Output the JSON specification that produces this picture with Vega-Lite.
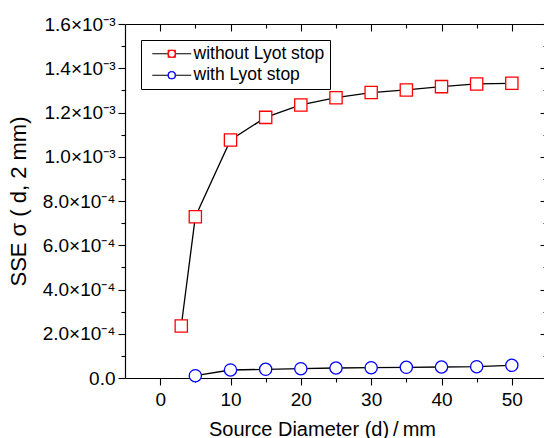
{
  "$schema": "https://vega.github.io/schema/vega-lite/v6.json",
  "width": 422,
  "height": 354,
  "autosize": {"type": "none"},
  "padding": {"left": 125, "top": 24, "right": 0, "bottom": 60},
  "background": "white",
  "config": {
    "font": "Liberation Sans",
    "view": {"stroke": null},
    "axis": {
      "grid": false,
      "domainColor": "black",
      "tickColor": "black",
      "labelColor": "black",
      "titleColor": "black",
      "labelFont": "Liberation Sans",
      "titleFont": "Liberation Sans",
      "labelFontSize": 19,
      "titleFontSize": 20,
      "titleFontWeight": "normal",
      "domainWidth": 1.2,
      "tickWidth": 1.1
    }
  },
  "data": {
    "values": [
      {"x": 3, "y": 0.000235, "series": "without Lyot stop"},
      {"x": 5, "y": 0.000729, "series": "without Lyot stop"},
      {"x": 10, "y": 0.001076, "series": "without Lyot stop"},
      {"x": 15, "y": 0.001178, "series": "without Lyot stop"},
      {"x": 20, "y": 0.001234, "series": "without Lyot stop"},
      {"x": 25, "y": 0.001267, "series": "without Lyot stop"},
      {"x": 30, "y": 0.00129, "series": "without Lyot stop"},
      {"x": 35, "y": 0.001302, "series": "without Lyot stop"},
      {"x": 40, "y": 0.001317, "series": "without Lyot stop"},
      {"x": 45, "y": 0.001329, "series": "without Lyot stop"},
      {"x": 50, "y": 0.001332, "series": "without Lyot stop"},
      {"x": 5, "y": 0.0000104, "series": "with Lyot stop"},
      {"x": 10, "y": 0.0000362, "series": "with Lyot stop"},
      {"x": 15, "y": 0.0000393, "series": "with Lyot stop"},
      {"x": 20, "y": 0.000042, "series": "with Lyot stop"},
      {"x": 25, "y": 0.0000452, "series": "with Lyot stop"},
      {"x": 30, "y": 0.0000466, "series": "with Lyot stop"},
      {"x": 35, "y": 0.0000484, "series": "with Lyot stop"},
      {"x": 40, "y": 0.0000497, "series": "with Lyot stop"},
      {"x": 45, "y": 0.0000511, "series": "with Lyot stop"},
      {"x": 50, "y": 0.0000574, "series": "with Lyot stop"}
    ]
  },
  "layer": [
    {
      "mark": {"type": "line", "strokeWidth": 1.3},
      "encoding": {
        "x": {
          "field": "x", "type": "quantitative",
          "scale": {"domain": [-5, 55], "nice": false, "zero": false},
          "axis": {"orient": "bottom", "values": [0, 10, 20, 30, 40, 50], "tickSize": 7, "labelPadding": 5, "title": "Source Diameter (d)\u2009/\u2009mm", "titlePadding": 10, "titleX": 197, "format": "d"}
        },
        "y": {
          "field": "y", "type": "quantitative",
          "scale": {"domain": [0, 0.0016], "nice": false, "zero": false},
          "axis": {
            "orient": "left",
            "values": [0, 0.0002, 0.0004, 0.0006, 0.0008, 0.001, 0.0012, 0.0014, 0.0016],
            "tickSize": 7, "labelPadding": 3,
            "labelExpr": "datum.value < 0.00001 ? '0.0' : (datum.value < 0.00099 ? format(datum.value * 10000, '.1f') + '×10⁻⁴' : format(datum.value * 1000, '.1f') + '×10⁻³')",
            "title": "SSE σ ( d, 2 mm)", "titlePadding": 12, "titleFontSize": 22
          }
        },
        "color": {
          "field": "series", "type": "nominal",
          "scale": {"domain": ["without Lyot stop", "with Lyot stop"], "range": ["black", "black"]},
          "legend": {
            "orient": "top-left", "offset": 16, "title": null, "padding": 5,
            "strokeColor": "black", "fillColor": "white",
            "symbolType": "M-5.57,0H5.57", "symbolSize": 49, "symbolStrokeWidth": 1.2,
            "symbolOffset": 17, "labelOffset": 13,
            "labelFont": "Liberation Sans", "labelFontSize": 17.5, "labelColor": "black",
            "rowPadding": 2.5, "labelLimit": 400,
            "labelExpr": "datum.label + '  '"
          }
        }
      }
    },
    {
      "mark": {"type": "point", "fill": "white", "strokeWidth": 1.3, "size": 150, "opacity": 1},
      "encoding": {
        "x": {
          "field": "x", "type": "quantitative",
          "scale": {"domain": [-5, 55], "nice": false, "zero": false},
          "axis": {"orient": "bottom", "values": [5, 15, 25, 35, 45], "tickSize": 4, "labels": false, "domain": false, "title": null}
        },
        "y": {
          "field": "y", "type": "quantitative",
          "scale": {"domain": [0, 0.0016], "nice": false, "zero": false},
          "axis": {"orient": "left", "values": [0.0001, 0.0003, 0.0005, 0.0007, 0.0009, 0.0011, 0.0013, 0.0015], "tickSize": 4, "labels": false, "domain": false, "title": null}
        },
        "stroke": {
          "field": "series", "type": "nominal",
          "scale": {"domain": ["without Lyot stop", "with Lyot stop"], "range": ["#ff0000", "#0000ff"]},
          "legend": {
            "orient": "none", "legendX": 16, "legendY": 16, "title": null, "padding": 5,
            "symbolSize": 49, "symbolStrokeWidth": 1.2, "symbolFillColor": "white",
            "symbolOffset": 17, "labelOffset": 13,
            "labelFont": "Liberation Sans", "labelFontSize": 17.5, "labelOpacity": 0,
            "rowPadding": 2.5, "labelLimit": 400,
            "labelExpr": "datum.label + '  '"
          }
        },
        "shape": {
          "field": "series", "type": "nominal",
          "scale": {"domain": ["without Lyot stop", "with Lyot stop"], "range": ["square", "circle"]},
          "legend": {
            "orient": "none", "legendX": 16, "legendY": 16, "title": null, "padding": 5,
            "symbolSize": 49, "symbolStrokeWidth": 1.2, "symbolFillColor": "white",
            "symbolOffset": 17, "labelOffset": 13,
            "labelFont": "Liberation Sans", "labelFontSize": 17.5, "labelOpacity": 0,
            "rowPadding": 2.5, "labelLimit": 400,
            "labelExpr": "datum.label + '  '"
          }
        }
      }
    },
    {
      "mark": {"type": "point", "opacity": 0},
      "encoding": {
        "x": {
          "field": "x", "type": "quantitative",
          "scale": {"domain": [-5, 55], "nice": false, "zero": false},
          "axis": {"orient": "top", "values": [0, 10, 20, 30, 40, 50], "tickSize": -7, "labels": false, "domain": true, "title": null}
        },
        "y": {
          "field": "y", "type": "quantitative",
          "scale": {"domain": [0, 0.0016], "nice": false, "zero": false},
          "axis": {"orient": "right", "values": [0, 0.0002, 0.0004, 0.0006, 0.0008, 0.001, 0.0012, 0.0014, 0.0016], "tickSize": -7, "labels": false, "domain": true, "title": null}
        }
      }
    },
    {
      "mark": {"type": "point", "opacity": 0},
      "encoding": {
        "x": {
          "field": "x", "type": "quantitative",
          "scale": {"domain": [-5, 55], "nice": false, "zero": false},
          "axis": {"orient": "top", "values": [5, 15, 25, 35, 45], "tickSize": -4, "labels": false, "domain": false, "title": null}
        },
        "y": {
          "field": "y", "type": "quantitative",
          "scale": {"domain": [0, 0.0016], "nice": false, "zero": false},
          "axis": {"orient": "right", "values": [0.0001, 0.0003, 0.0005, 0.0007, 0.0009, 0.0011, 0.0013, 0.0015], "tickSize": -4, "labels": false, "domain": false, "title": null}
        }
      }
    }
  ],
  "resolve": {"axis": {"x": "independent", "y": "independent"}}
}
